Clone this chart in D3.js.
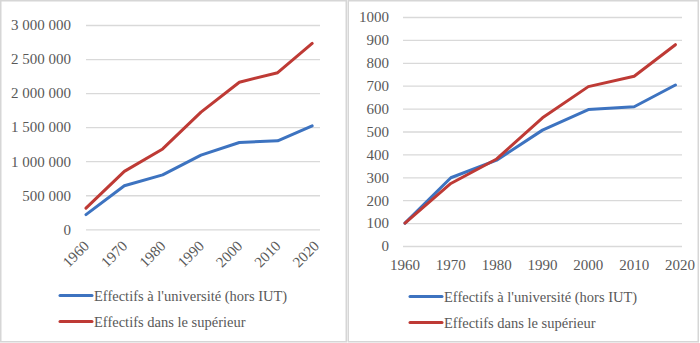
<!DOCTYPE html>
<html>
<head>
<meta charset="utf-8">
<script src="https://cdn.jsdelivr.net/npm/d3@7"></script>
<style>
  body { margin: 0; background: #fff; }
  svg { display: block; }
</style>
</head>
<body>
<script>
// student numbers, absolute and indexed (1960 = 100)
const years = [1960, 1970, 1980, 1990, 2000, 2010, 2019];
const yearTicks = [1960, 1970, 1980, 1990, 2000, 2010, 2020];
const univ = [215000, 640000, 800000, 1090000, 1275000, 1300000, 1520000];
const sup = [310000, 850000, 1180000, 1720000, 2160000, 2300000, 2730000];
const univIdx = [100, 298, 375, 506, 596, 608, 703];
const supIdx = [100, 273, 380, 560, 696, 741, 879];
const leftTicks = [0, 500000, 1000000, 1500000, 2000000, 2500000, 3000000];
const rightTicks = [0, 100, 200, 300, 400, 500, 600, 700, 800, 900, 1000];
const seriesNames = ["Effectifs à l'université (hors IUT)", "Effectifs dans le supérieur"];
const colors = ["#3d73c0", "#be3a35"];

const W = 700, H = 343;
const FONT = "'Liberation Serif'";
const svg = d3.select('body').append('svg').attr('width', W).attr('height', H);

const fr = d3.formatLocale({ decimal: ",", thousands: " ", grouping: [3], currency: ["", " €"] });

// panel frames
svg.append('rect').attr('x', 0.75).attr('y', 0.75).attr('width', 345.5).attr('height', 341)
  .attr('fill', 'none').attr('stroke', '#d6d6d6').attr('stroke-width', 1.5);
svg.append('rect').attr('x', 348.25).attr('y', 0.75).attr('width', 350).attr('height', 341)
  .attr('fill', 'none').attr('stroke', '#d6d6d6').attr('stroke-width', 1.5);

function styleText(sel, size) {
  sel.style('font-family', FONT).style('font-size', size + 'px').style('fill', '#595959');
}

function panel(opt) {
  const g = svg.append('g');
  const x = d3.scaleLinear().domain([1960, 2020]).range(opt.xRange);
  const y = d3.scaleLinear().domain(opt.yDomain).range(opt.yRange);

  // gridlines + y labels
  const yAxis = d3.axisLeft(y)
    .tickValues(opt.yTicks)
    .tickSize(-(opt.gridEnd - opt.gridStart))
    .tickPadding(opt.pad)
    .tickFormat(opt.fmt);
  const ya = g.append('g').attr('transform', `translate(${opt.gridStart},0)`).call(yAxis);
  ya.select('.domain').remove();
  ya.selectAll('line').attr('stroke', '#d9d9d9').attr('stroke-width', 1.3);
  styleText(ya.selectAll('text'), 15);

  // x labels
  const xl = g.append('g').selectAll('text').data(yearTicks).enter().append('text')
    .text(d => d);
  styleText(xl, 15);
  if (opt.rotate) {
    xl.attr('text-anchor', 'end')
      .attr('transform', d => `translate(${x(d) + 4},${opt.xLabelY}) rotate(-45)`);
  } else {
    xl.attr('text-anchor', 'middle')
      .attr('x', d => x(d)).attr('y', opt.xLabelY);
  }

  // series
  const line = d3.line().x((d, i) => x(years[i])).y(d => y(d));
  opt.series.forEach((s, i) => {
    g.append('path').datum(s).attr('d', line)
      .attr('fill', 'none').attr('stroke', colors[i]).attr('stroke-width', 3)
      .attr('stroke-linejoin', 'round').attr('stroke-linecap', 'round');
  });

  // legend
  const lg = g.append('g').selectAll('g').data(seriesNames).enter().append('g')
    .attr('transform', (d, i) => `translate(${opt.legendX},${opt.legendY + i * 26})`);
  lg.append('line').attr('x1', 0).attr('x2', 32).attr('y1', 0).attr('y2', 0)
    .attr('stroke', (d, i) => colors[i]).attr('stroke-width', 3).attr('stroke-linecap', 'round');
  styleText(lg.append('text').attr('x', 34).attr('y', 0).attr('dy', '0.35em').text(d => d), 14.5);
}

panel({
  xRange: [86, 316], yDomain: [0, 3000000], yRange: [229.3, 25],
  gridStart: 86, gridEnd: 320, pad: 15,
  yTicks: leftTicks, fmt: fr.format(",d"),
  rotate: true, xLabelY: 247,
  series: [univ, sup],
  legendX: 60, legendY: 295.5
});

panel({
  xRange: [405, 680], yDomain: [0, 1000], yRange: [246, 17],
  gridStart: 403, gridEnd: 682, pad: 14,
  yTicks: rightTicks, fmt: d3.format("d"),
  rotate: false, xLabelY: 270,
  series: [univIdx, supIdx],
  legendX: 410, legendY: 296.5
});
</script>
</body>
</html>
